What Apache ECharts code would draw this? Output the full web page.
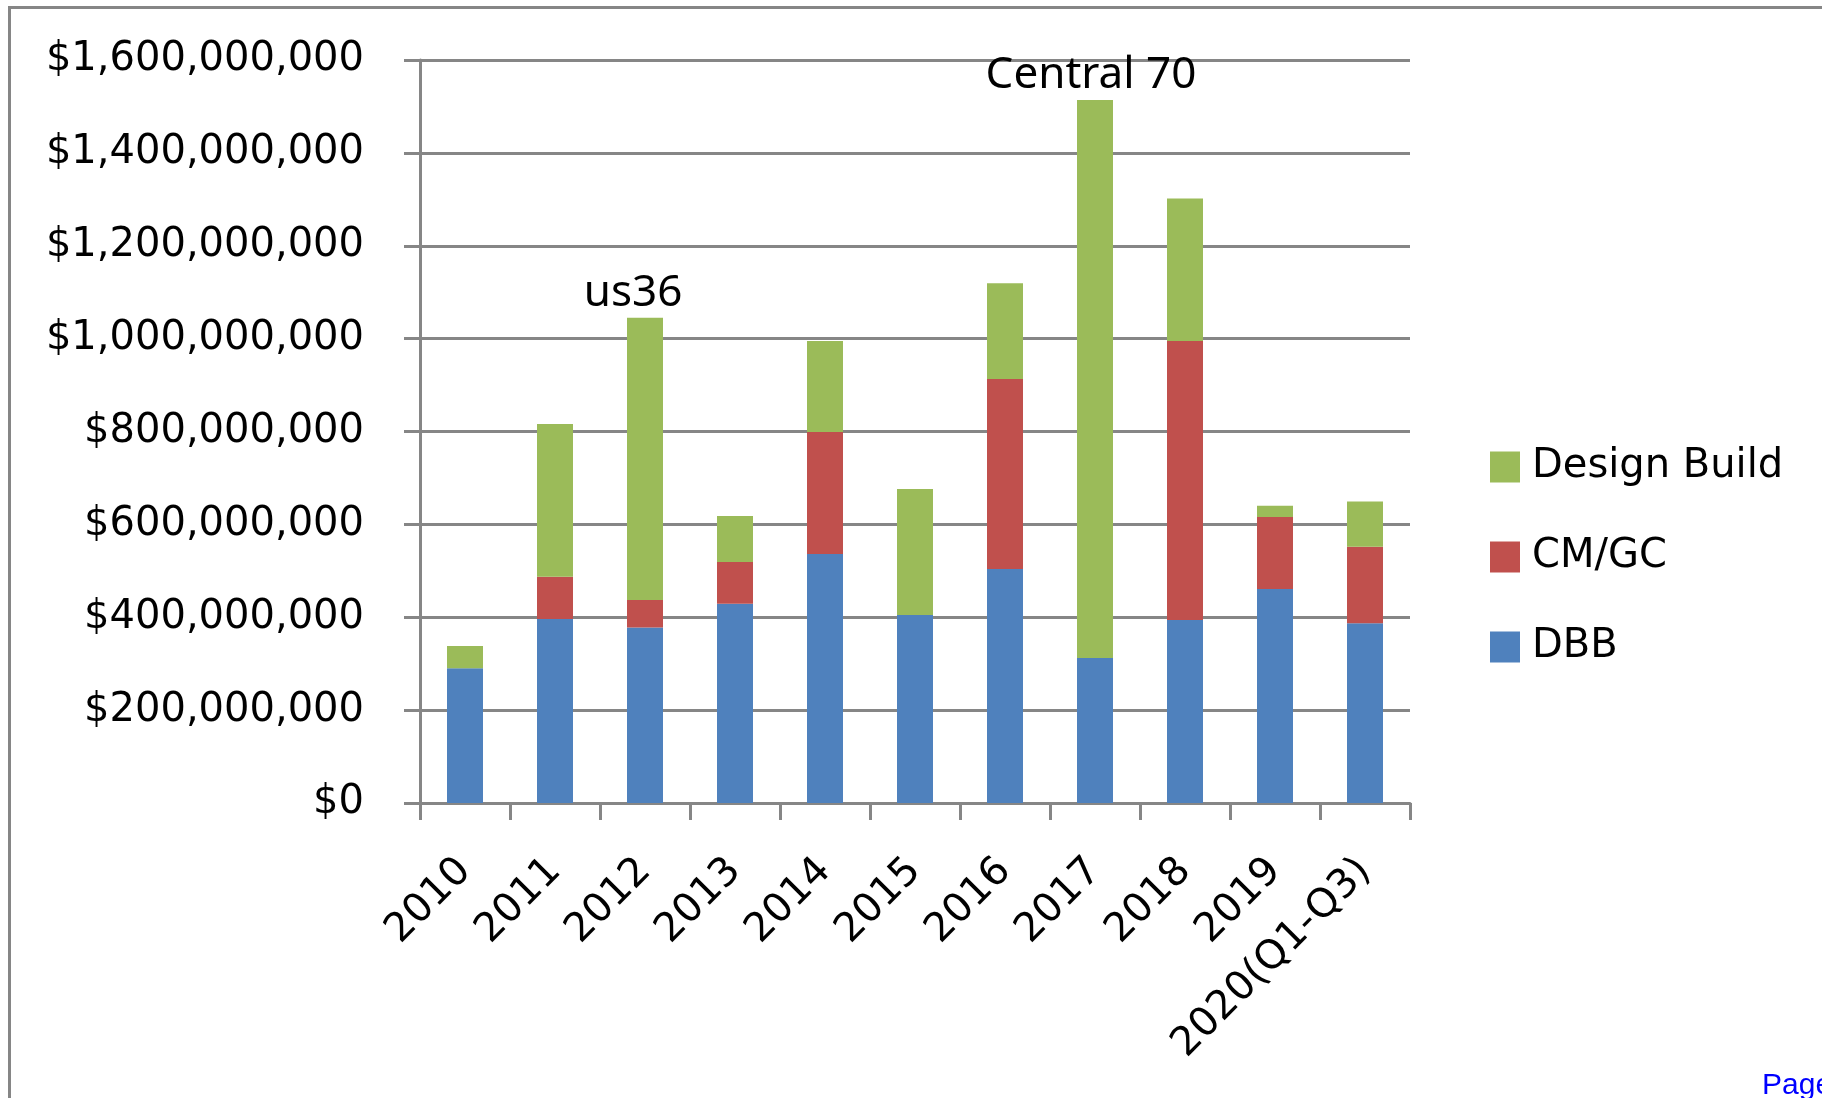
<!DOCTYPE html>
<html>
<head>
<meta charset="utf-8">
<script src="https://cdn.jsdelivr.net/npm/echarts@6/dist/echarts.min.js"></script>
<style>
html,body{margin:0;padding:0;background:#fff;}
#chart{width:1822px;height:1098px;}
</style>
</head>
<body>
<div id="chart"></div>
<script>
// Data (US dollars)
const categories = ['2010','2011','2012','2013','2014','2015','2016','2017','2018','2019','2020(Q1-Q3)'];
const dbb        = [290e6, 396e6, 378e6, 429e6, 536e6, 405e6, 504e6, 312e6, 394e6, 461e6, 387e6];
const cmgc       = [0,      91e6,  59e6,  90e6, 263e6,     0, 409e6,     0, 601e6, 155e6, 165e6];
const designBuild= [48e6,  329e6, 608e6,  99e6, 196e6, 271e6, 206e6, 1202e6, 307e6, 24e6,  97e6];
const seriesNames = ['DBB', 'CM/GC', 'Design Build'];
const legendOrder = ['Design Build', 'CM/GC', 'DBB'];
const annotations = [ { cat: '2012', text: 'us36' }, { cat: '2017', text: 'Central 70' } ];
const yTicks = { min: 0, max: 1600e6, interval: 200e6 };

const annotOffsets = { 'us36': [-12, 0], 'Central 70': [-4, 0] };
const colors = ['#4F81BD', '#C0504D', '#9BBB59'];
const gray = '#868686';
const axisFont = 'DejaVu Sans';

const dbData = designBuild.map((v, i) => {
  const a = annotations.find(x => x.cat === categories[i]);
  if (!a) return v;
  return {
    value: v,
    label: {
      show: true, position: 'top', distance: 2,
      formatter: a.text, offset: annotOffsets[a.text],
      fontFamily: 'Noto Sans', fontSize: 44, lineHeight: 44, color: '#000'
    }
  };
});

const chart = echarts.init(document.getElementById('chart'), null, { renderer: 'canvas' });
const barW = 36;
chart.setOption({
  animation: false,
  backgroundColor: '#fff',
  grid: { left: 420, right: 412, top: 60, bottom: 295, containLabel: false },
  legend: {
    orient: 'vertical', left: 1490, top: 447, padding: 0,
    data: legendOrder, icon: 'rect', itemWidth: 30, itemHeight: 31, itemGap: 50,
    textStyle: { fontFamily: axisFont, fontSize: 40, lineHeight: 40, color: '#000', padding: [0,0,0,7] },
    selectedMode: false
  },
  xAxis: {
    type: 'category', data: categories,
    axisLine: { show: true, lineStyle: { color: gray, width: 3 } },
    axisTick: { show: true, length: 17, lineStyle: { color: gray, width: 3 } },
    axisLabel: { rotate: 45, margin: 62, fontFamily: axisFont, fontSize: 40, color: '#000', interval: 0 },
    splitLine: { show: false }
  },
  yAxis: {
    type: 'value', min: yTicks.min, max: yTicks.max, interval: yTicks.interval,
    axisLine: { show: true, lineStyle: { color: gray, width: 3 } },
    axisTick: { show: true, length: 16, lineStyle: { color: gray, width: 3 } },
    axisLabel: {
      margin: 56, fontFamily: axisFont, fontSize: 40, color: '#000',
      formatter: v => '$' + Number(v).toLocaleString('en-US')
    },
    splitLine: { show: true, lineStyle: { color: gray, width: 3 } }
  },
  series: [
    { name: seriesNames[0], type: 'bar', stack: 'total', barWidth: barW, data: dbb, itemStyle: { color: colors[0] } },
    { name: seriesNames[1], type: 'bar', stack: 'total', barWidth: barW, data: cmgc, itemStyle: { color: colors[1] } },
    { name: seriesNames[2], type: 'bar', stack: 'total', barWidth: barW, data: dbData, itemStyle: { color: colors[2] } }
  ],
  graphic: [
    { type: 'rect', silent: true, z: -1, shape: { x: 9.5, y: 7.5, width: 2000, height: 2000 },
      style: { fill: 'none', stroke: gray, lineWidth: 3 } },
    { type: 'text', left: 1762, top: 1071, silent: true,
      style: { text: 'Page', font: '30px "Liberation Sans"', fill: '#0000ff' } }
  ]
});
</script>
</body>
</html>
